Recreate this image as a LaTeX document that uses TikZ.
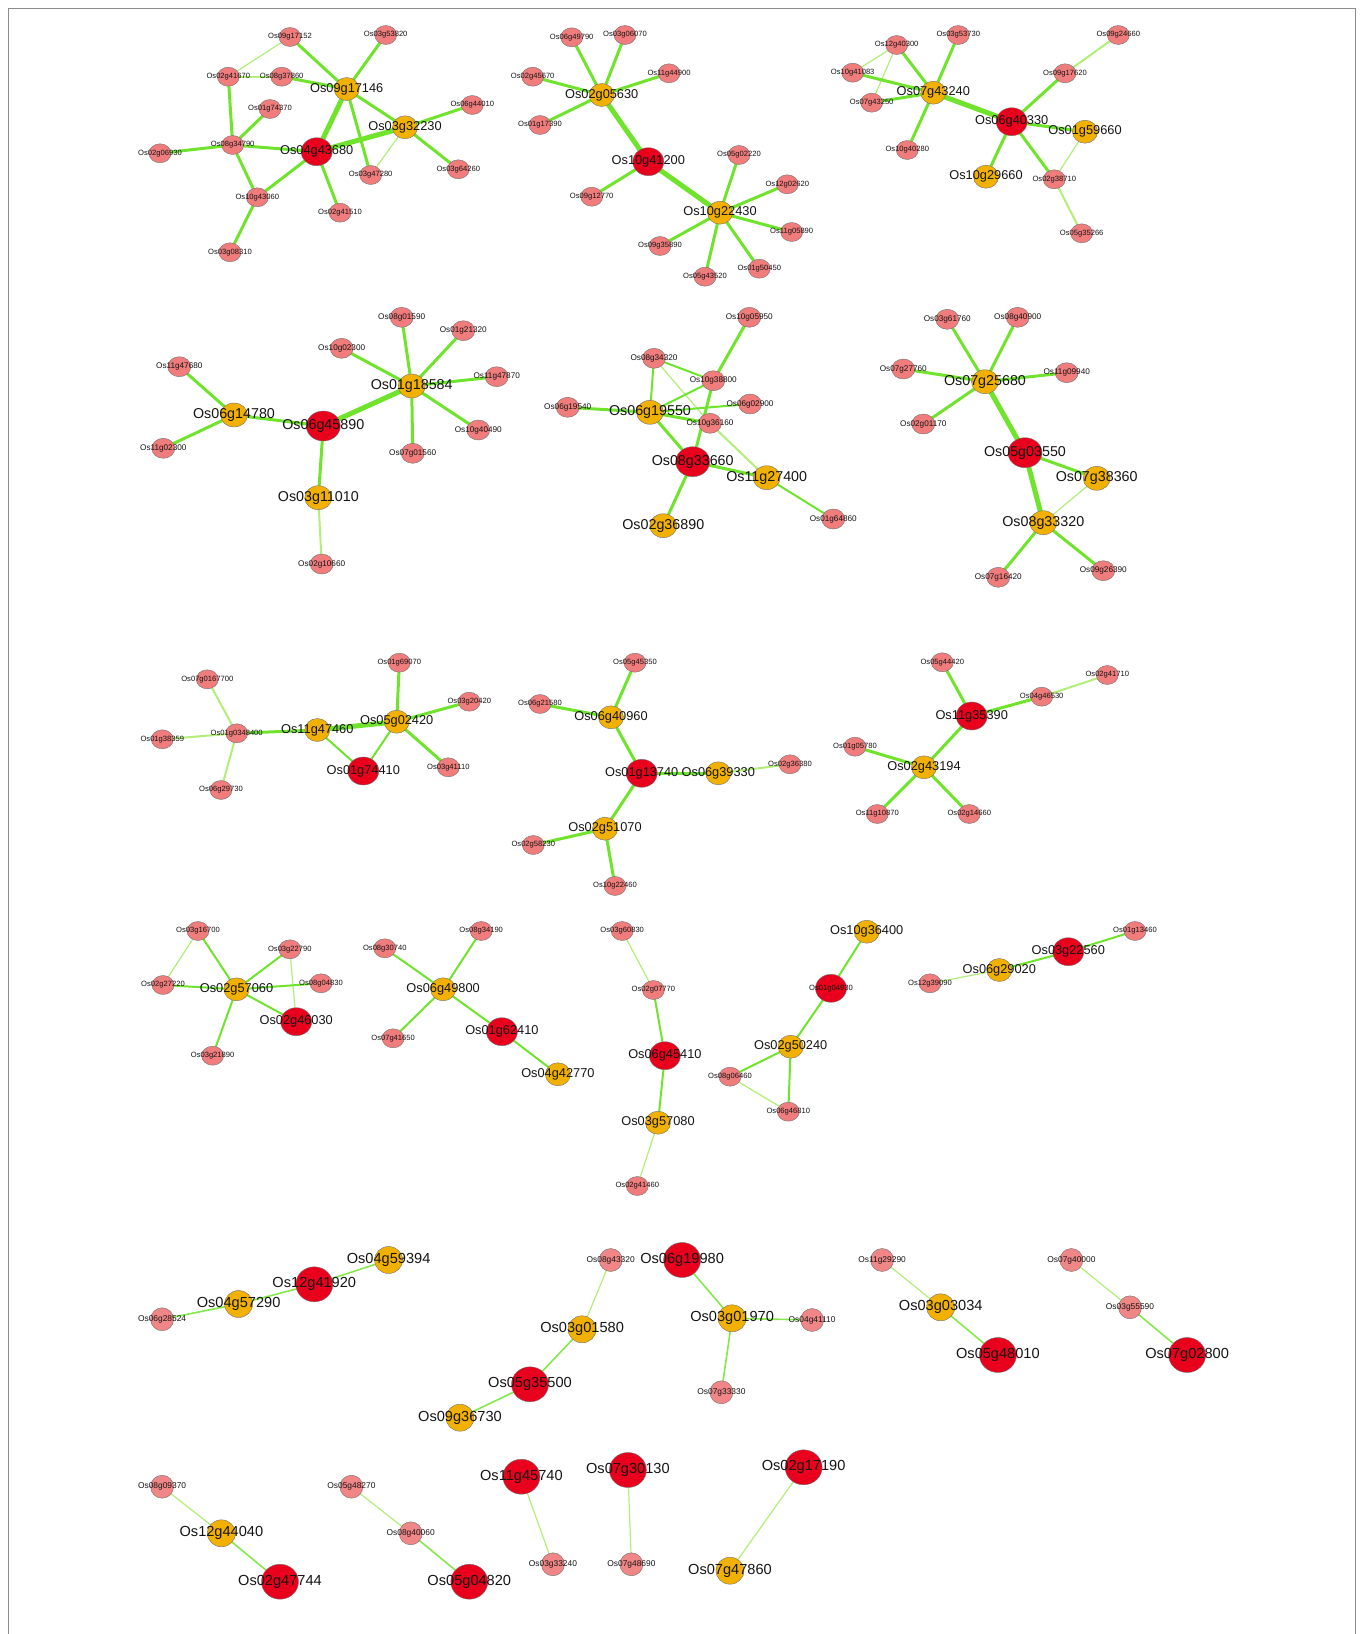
\documentclass[tikz,border=0pt]{standalone}
\usepackage{fontspec}
\setmainfont{Liberation Sans}
\usetikzlibrary{shapes.geometric}
\definecolor{G}{RGB}{112,228,44}
\definecolor{GL}{RGB}{178,238,120}
\definecolor{pinkc}{RGB}{240,124,124}
\definecolor{orc}{RGB}{242,176,0}
\definecolor{redc}{RGB}{232,0,28}
\pgfdeclarelayer{bg}
\pgfsetlayers{bg,main}
\tikzset{
 nd/.style={ellipse,draw=black!55,line width=0.4pt,inner sep=0pt},
 p1/.style={nd,fill=pinkc,minimum width=22,minimum height=19},
 p2/.style={nd,fill=pinkc,minimum width=23,minimum height=20},
 p5/.style={nd,fill=pinkc!92!white,minimum width=23,minimum height=23},
 o1/.style={nd,fill=orc,minimum width=25,minimum height=23},
 o2/.style={nd,fill=orc,minimum width=27,minimum height=24},
 o5/.style={nd,fill=orc,minimum width=28,minimum height=27},
 r1/.style={nd,fill=redc,minimum width=31,minimum height=28},
 r2/.style={nd,fill=redc,minimum width=34,minimum height=30},
 r5/.style={nd,fill=redc,minimum width=37,minimum height=35},
 rx/.style={r1},
 lab/.style={inner sep=0pt,text=black!92},
 p1-l/.style={lab,font=\fontsize{7.6}{8}\selectfont},
 rx-l/.style={lab,font=\fontsize{7.6}{8}\selectfont},
 p2-l/.style={lab,font=\fontsize{8.2}{9}\selectfont},
 p5-l/.style={lab,font=\fontsize{8.4}{9}\selectfont},
 o1-l/.style={lab,font=\fontsize{12.8}{14}\selectfont},
 r1-l/.style={lab,font=\fontsize{12.8}{14}\selectfont},
 o2-l/.style={lab,font=\fontsize{14.3}{16}\selectfont},
 r2-l/.style={lab,font=\fontsize{14.3}{16}\selectfont},
 o5-l/.style={lab,font=\fontsize{14.6}{16}\selectfont},
 r5-l/.style={lab,font=\fontsize{14.6}{16}\selectfont},
 e/.style={G,line width=3},
 eT/.style={G,line width=5},
 eN/.style={G,line width=2},
 eM/.style={GL,line width=2},
 eL/.style={GL,line width=1.2},
 eS/.style={G!85!white,line width=1.6},
}
\def\nodelist{%
p1/290/37/Os09g17152, p1/385.7/35/Os03g53820, p1/228.3/76.7/Os02g41670, p1/281.7/76.7/Os08g37860, o1/346.7/89/Os09g17146, p1/270/109/Os01g74370, o1/405/127.3/Os03g32230, p1/472.3/105/Os06g44010, p1/232.7/145/Os08g34790, p1/160/153.3/Os02g06930, r1/316.7/151.7/Os04g43680, p1/370.7/175/Os03g47280, p1/458.3/169.3/Os03g64260, p1/257.3/197.3/Os10g43060, p1/340/212.7/Os02g41510, p1/230/252.3/Os03g08310,
p1/571.7/37.3/Os06g49790, p1/625/35/Os03g06070, p1/532.7/76.7/Os02g45670, p1/669/73.3/Os11g44900, o1/601.7/95/Os02g05630, p1/540/125/Os01g17390, r1/648.3/161.7/Os10g41200, p1/739/155/Os05g02220, p1/787.3/184.3/Os12g02620, p1/591.7/196.7/Os09g12770, o1/720/212.7/Os10g22430, p1/791.7/232/Os11g05890, p1/660/246/Os09g35890, p1/759.3/268.7/Os01g50450, p1/705/276.7/Os05g43520,
p1/896.7/45/Os12g40300, p1/958.3/35/Os03g53730, p1/1118.3/35/Os09g24660, p1/852.7/72.7/Os10g41083, p1/1065/73.3/Os09g17620, o1/933.3/92.7/Os07g43240, p1/871.7/102.7/Os07g43250, r1/1011.7/121.7/Os06g40330, o1/1085/131.7/Os01g59660, p1/907.3/150/Os10g40280, o1/986/176.7/Os10g29660, p1/1054.3/179.3/Os02g38710, p1/1081.7/233.3/Os05g35266,
p2/401.7/317.3/Os08g01590, p2/463.3/330.7/Os01g21320, p2/341.7/348.3/Os10g02300, p2/179.3/366.7/Os11g47680, p2/496.7/376.7/Os11g47870, o2/411.7/386/Os01g18584, o2/234/415/Os06g14780, r2/323.3/426/Os06g45890, p2/478.3/430/Os10g40490, p2/163.3/448.3/Os11g02300, p2/412.7/453.3/Os07g01560, o2/318.3/497.7/Os03g11010, p2/321.7/564/Os02g10660,
p2/749.3/317.3/Os10g05950, p2/654/358.3/Os08g34320, p2/713.3/380.7/Os10g38800, p2/567.7/407.3/Os06g19540, p2/750/404/Os06g02900, o2/650/412.3/Os06g19550, p2/710/423.3/Os10g36160, r2/692.7/461.7/Os08g33660, o2/766.7/477.7/Os11g27400, p2/833.3/519/Os01g64860, o2/663.3/525.7/Os02g36890,
p2/947.3/319.3/Os03g61760, p2/1017.7/317.3/Os08g40900, p2/903.3/369/Os07g27760, p2/1066.7/372.7/Os11g09940, o2/985/381.7/Os07g25680, p2/923.3/424/Os02g01170, r2/1025/452.7/Os05g03550, o2/1096.7/478.3/Os07g38360, o2/1043.3/522.7/Os08g33320, p2/998.3/577.3/Os07g16420, p2/1103.3/570.7/Os09g26390,
p1/207.3/679.3/Os07g0167700, p1/399.3/662.7/Os01g69070, p1/469.3/701.7/Os03g20420, o1/396.7/721.7/Os05g02420, o1/317.3/730/Os11g47460, p1/236.7/733.3/Os01g0348400, p1/162.3/739.3/Os01g38359, p1/448.3/767.3/Os03g41110, r1/363.3/771/Os01g74410, p1/221/790/Os06g29730,
p1/635/662.7/Os05g45350, p1/540/704/Os06g21580, o1/611/717.3/Os06g40960, r1/641.7/773.3/Os01g13740, o1/718.3/773.3/Os06g39330, p1/790/764.3/Os02g36380, o1/605/828.7/Os02g51070, p1/533.3/845/Os02g58230, p1/615/886/Os10g22460,
p1/942.3/662.3/Os05g44420, p1/1107.3/675/Os02g41710, p1/1041.7/696.7/Os04g46530, r1/971.7/716/Os11g35390, p1/855/746.7/Os01g05780, o1/924/767.3/Os02g43194, p1/877.3/814/Os11g10870, p1/969.3/814/Os02g14660,
p1/198/931/Os03g16700, p1/289.8/949.3/Os03g22790, p1/163/985/Os02g27220, p1/321/983.3/Os08g04830, o1/236.5/989.3/Os02g57060, r1/296.2/1021.7/Os02g46030, p1/212.6/1055.7/Os03g21890,
p1/481.2/931/Os08g34190, p1/384.8/948.3/Os08g30740, o1/443.1/989.3/Os06g49800, p1/393.1/1038.3/Os07g41650, r1/501.9/1031.7/Os01g62410, o1/557.9/1074.3/Os04g42770,
p1/622.2/931/Os03g60830, p1/653.4/990/Os02g07770, r1/664.9/1055.7/Os06g45410, o1/658/1122.7/Os03g57080, p1/637.3/1186/Os02g41460,
o1/866.7/931.7/Os10g36400, rx/831/988.3/Os01g04930, o1/790.7/1046.7/Os02g50240, p1/730/1076.7/Os08g06460, p1/788.3/1111.7/Os06g46810,
p1/1135/931/Os01g13460, r1/1068.3/951.7/Os03g22560, o1/999.3/970/Os06g29020, p1/930/983.3/Os12g39090,
p5/162.1/1319.3/Os06g28524, o5/238.6/1304/Os04g57290, r5/314.3/1284.3/Os12g41920, o5/388.6/1260/Os04g59394,
p5/610.7/1260/Os08g43320, r5/682.1/1260/Os06g19980, o5/582.1/1329.3/Os03g01580, o5/732.1/1318.3/Os03g01970, p5/812.1/1320/Os04g41110, r5/530/1384.3/Os05g35500, p5/721.4/1392.3/Os07g33330, o5/460/1417.7/Os09g36730,
p5/882.1/1260/Os11g29290, o5/940.7/1307.3/Os03g03034, r5/997.9/1355/Os05g48010,
p5/1071.4/1260/Os07g40000, p5/1130/1307.3/Os03g55590, r5/1187.1/1355/Os07g02800,
p5/162.1/1486.7/Os08g09370, o5/221.4/1533.3/Os12g44040, r5/280/1581.7/Os02g47744,
p5/351.4/1486.7/Os05g48270, p5/410.7/1533.3/Os08g40060, r5/469.3/1581.7/Os05g04820,
r5/521.4/1476.7/Os11g45740, p5/552.9/1564.3/Os03g33240, r5/627.9/1470/Os07g30130, p5/631.4/1564.3/Os07g48690, r5/803.6/1467.3/Os02g17190, o5/730/1570.7/Os07g47860}
\def\edgelist{%
eL/Os09g17152/Os02g41670, e/Os09g17152/Os09g17146, e/Os03g53820/Os09g17146, eM/Os02g41670/Os08g37860, e/Os08g37860/Os09g17146, e/Os02g41670/Os08g34790, e/Os01g74370/Os08g34790, e/Os02g06930/Os08g34790, e/Os08g34790/Os04g43680, e/Os08g34790/Os10g43060, e/Os10g43060/Os04g43680, e/Os10g43060/Os03g08310, eT/Os04g43680/Os09g17146, eT/Os04g43680/Os03g32230, e/Os04g43680/Os02g41510, e/Os09g17146/Os03g32230, e/Os09g17146/Os03g47280, eL/Os03g32230/Os03g47280, e/Os03g32230/Os06g44010, e/Os03g32230/Os03g64260,
e/Os02g05630/Os06g49790, e/Os02g05630/Os03g06070, e/Os02g05630/Os02g45670, e/Os02g05630/Os11g44900, e/Os02g05630/Os01g17390, eT/Os02g05630/Os10g41200, e/Os10g41200/Os09g12770, eT/Os10g41200/Os10g22430, e/Os10g22430/Os05g02220, e/Os10g22430/Os12g02620, e/Os10g22430/Os11g05890, e/Os10g22430/Os09g35890, e/Os10g22430/Os01g50450, e/Os10g22430/Os05g43520,
eL/Os12g40300/Os10g41083, eL/Os12g40300/Os07g43250, e/Os12g40300/Os07g43240, e/Os03g53730/Os07g43240, e/Os10g41083/Os07g43240, e/Os07g43250/Os07g43240, e/Os07g43240/Os10g40280, eT/Os07g43240/Os06g40330, e/Os06g40330/Os09g17620, eM/Os09g17620/Os09g24660, e/Os06g40330/Os01g59660, e/Os06g40330/Os10g29660, e/Os06g40330/Os02g38710, eL/Os01g59660/Os02g38710, eM/Os02g38710/Os05g35266,
e/Os11g47680/Os06g14780, e/Os11g02300/Os06g14780, e/Os06g14780/Os06g45890, eT/Os06g45890/Os01g18584, e/Os06g45890/Os03g11010, eM/Os03g11010/Os02g10660, e/Os01g18584/Os08g01590, e/Os01g18584/Os01g21320, e/Os01g18584/Os10g02300, e/Os01g18584/Os11g47870, e/Os01g18584/Os10g40490, e/Os01g18584/Os07g01560,
e/Os10g05950/Os10g38800, eN/Os08g34320/Os10g38800, eN/Os08g34320/Os06g19550, eL/Os08g34320/Os10g36160, eN/Os10g38800/Os06g19550, e/Os10g38800/Os08g33660, e/Os06g19540/Os06g19550, eN/Os06g19550/Os06g02900, e/Os06g19550/Os10g36160, e/Os06g19550/Os08g33660, eM/Os10g36160/Os11g27400, e/Os08g33660/Os11g27400, e/Os08g33660/Os02g36890, eN/Os11g27400/Os01g64860,
e/Os07g25680/Os03g61760, e/Os07g25680/Os08g40900, e/Os07g25680/Os07g27760, e/Os07g25680/Os11g09940, e/Os07g25680/Os02g01170, eT/Os07g25680/Os05g03550, e/Os05g03550/Os07g38360, eT/Os05g03550/Os08g33320, eL/Os07g38360/Os08g33320, e/Os08g33320/Os07g16420, e/Os08g33320/Os09g26390,
eM/Os07g0167700/Os01g0348400, eM/Os01g38359/Os01g0348400, eM/Os06g29730/Os01g0348400, e/Os01g0348400/Os11g47460, eT/Os11g47460/Os05g02420, eN/Os11g47460/Os01g74410, eN/Os05g02420/Os01g74410, e/Os05g02420/Os01g69070, e/Os05g02420/Os03g20420, e/Os05g02420/Os03g41110,
e/Os05g45350/Os06g40960, e/Os06g21580/Os06g40960, e/Os06g40960/Os01g13740, e/Os01g13740/Os06g39330, eM/Os06g39330/Os02g36380, e/Os01g13740/Os02g51070, e/Os02g51070/Os02g58230, e/Os02g51070/Os10g22460,
e/Os05g44420/Os11g35390, e/Os11g35390/Os04g46530, eM/Os04g46530/Os02g41710, e/Os11g35390/Os02g43194, e/Os02g43194/Os01g05780, e/Os02g43194/Os11g10870, e/Os02g43194/Os02g14660,
eL/Os03g16700/Os02g27220, eN/Os03g16700/Os02g57060, eN/Os03g22790/Os02g57060, eL/Os03g22790/Os02g46030, eN/Os02g27220/Os02g57060, eN/Os02g57060/Os08g04830, eN/Os02g57060/Os02g46030, eN/Os02g57060/Os03g21890,
eN/Os08g30740/Os06g49800, eN/Os08g34190/Os06g49800, eN/Os06g49800/Os07g41650, eN/Os06g49800/Os01g62410, eN/Os01g62410/Os04g42770,
eL/Os03g60830/Os02g07770, eN/Os02g07770/Os06g45410, eN/Os06g45410/Os03g57080, eL/Os03g57080/Os02g41460,
eN/Os10g36400/Os01g04930, eN/Os01g04930/Os02g50240, eN/Os02g50240/Os08g06460, eN/Os02g50240/Os06g46810, eL/Os08g06460/Os06g46810,
eL/Os12g39090/Os06g29020, eN/Os06g29020/Os03g22560, eN/Os03g22560/Os01g13460,
eS/Os06g28524/Os04g57290, eS/Os04g57290/Os12g41920, eS/Os12g41920/Os04g59394,
eL/Os08g43320/Os03g01580, eS/Os03g01580/Os05g35500, eS/Os05g35500/Os09g36730, eS/Os06g19980/Os03g01970, eS/Os03g01970/Os04g41110, eS/Os03g01970/Os07g33330,
eL/Os11g29290/Os03g03034, eS/Os03g03034/Os05g48010,
eL/Os07g40000/Os03g55590, eS/Os03g55590/Os07g02800,
eL/Os08g09370/Os12g44040, eS/Os12g44040/Os02g47744, eL/Os05g48270/Os08g40060, eS/Os08g40060/Os05g04820, eL/Os11g45740/Os03g33240, eL/Os07g30130/Os07g48690, eL/Os02g17190/Os07g47860}
\begin{document}
\begin{tikzpicture}[x=1pt,y=1pt]
\useasboundingbox (0,0) rectangle (1363,-1634);
\draw[black!45,line width=0.8] (8,-1640) -- (8,-8) -- (1355,-8) -- (1355,-1640);
\foreach \s/\x/\y/\n in \nodelist {\node[\s] (\n) at (\x,-\y) {};}
\begin{pgfonlayer}{bg}
\foreach \st/\a/\b in \edgelist {\draw[\st] (\a.center) -- (\b.center);}
\end{pgfonlayer}
\foreach \s/\x/\y/\n in \nodelist {\node[\s-l] at (\n) {\n};}
\end{tikzpicture}
\end{document}
